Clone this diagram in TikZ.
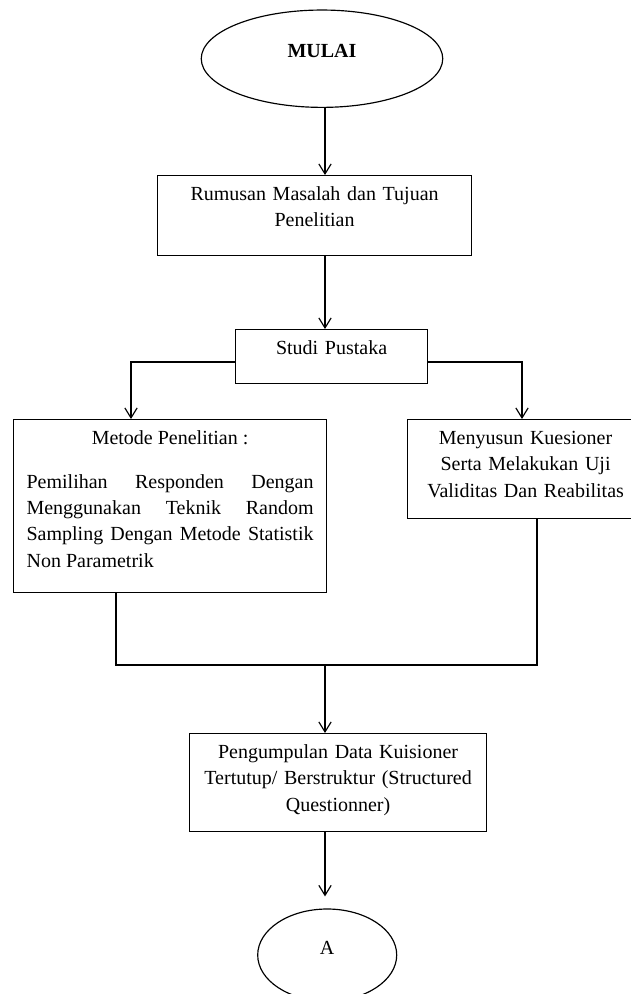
\documentclass[tikz,border=0pt]{standalone}
\usepackage{fontspec}
\setmainfont{Liberation Serif}
\usetikzlibrary{shapes.geometric, arrows.meta}

\begin{document}
\begin{tikzpicture}[
  x=0.6pt, y=-0.6pt,
  font=\fontsize{12}{15.8}\selectfont,
  box/.style={rectangle, draw, line width=0.7pt, inner xsep=7.2pt, inner ysep=0pt, text height=15pt, align=center, anchor=north west},
  terminal/.style={ellipse, draw, line width=0.7pt, inner sep=0pt, text depth=9pt},
  arrow/.style={-{Straight Barb[length=6pt, width=7.4pt]}, line width=0.7pt},
  line/.style={line width=0.7pt}
]
\useasboundingbox (0,0) rectangle (631,994);
\clip (0,0) rectangle (631,994);

% Titik bantu untuk garis
\coordinate (spine) at (325,0);
\coordinate (kiri) at (131,362);
\coordinate (kanan) at (522,362);
\coordinate (gabungkiri) at (116,665);
\coordinate (gabungkanan) at (537,665);

% Mulai
\node[terminal, minimum width=144.9pt, minimum height=58.4pt] (mulai) at (322,58.7) {\textbf{MULAI}};

% Rumusan masalah dan studi pustaka
\node[box, text width=174pt, text depth=33pt] (rumusan) at (157,175) {Rumusan Masalah dan Tujuan\\Penelitian};
\node[box, text width=100.8pt, text depth=17.4pt] (studi) at (235,329) {Studi Pustaka};

% Dua cabang
\node[box, inner xsep=7.8pt, text width=172.2pt, text depth=88.8pt, align=justify] (metode) at (13,419) {%
  {\centering Metode Penelitian :\par}\vspace{10.4pt}%
  Pemilihan Responden Dengan\linebreak Menggunakan Teknik Random\linebreak Sampling Dengan Metode Statistik\linebreak Non Parametrik};
\node[box, text width=127.2pt, text depth=44.4pt] (menyusun) at (407,419) {Menyusun Kuesioner\\Serta Melakukan Uji\\Validitas Dan Reabilitas};

% Pengumpulan data
\node[box, text width=163.8pt, text depth=43.8pt] (kuisioner) at (189,733) {Pengumpulan Data Kuisioner\\Tertutup/ Berstruktur (Structured\\Questionner)};

% Konektor halaman
\node[terminal, minimum width=83.4pt, minimum height=55.2pt] (konektor) at (327.2,955) {A};

% Alur utama
\draw[arrow] (mulai.south -| spine) -- (rumusan.north -| spine);
\draw[arrow] (rumusan.south -| spine) -- (studi.north -| spine);

% Percabangan
\draw[arrow] (studi.west |- kiri) -| (metode.north -| kiri);
\draw[arrow] (studi.east |- kanan) -| (menyusun.north -| kanan);

% Penggabungan
\draw[line] (metode.south -| gabungkiri) -- (gabungkiri) -- (gabungkanan) -- (menyusun.south -| gabungkanan);
\draw[arrow] (gabungkiri -| spine) -- (kuisioner.north -| spine);
\draw[arrow, shorten >=7.2pt] (kuisioner.south -| spine) -- (konektor.north -| spine);

\end{tikzpicture}
\end{document}
